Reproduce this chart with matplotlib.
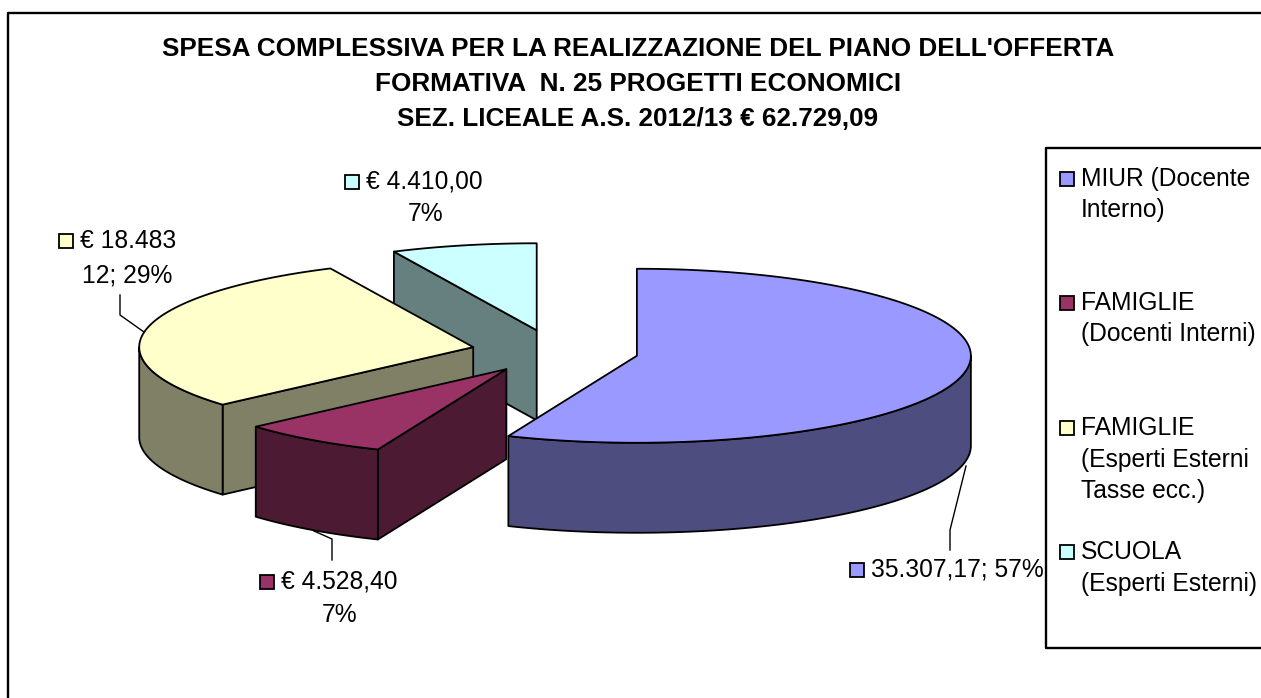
import numpy as np
import matplotlib
matplotlib.use("Agg")
import matplotlib.pyplot as plt
from matplotlib.patches import Polygon, Rectangle

plt.rcParams['font.family'] = ['Liberation Sans', 'DejaVu Sans']

# Data
values = [35307.17, 4528.40, 18483.12, 4410.00]
legend_names = ["MIUR (Docente\nInterno)", "FAMIGLIE\n(Docenti Interni)",
                "FAMIGLIE\n(Esperti Esterni\nTasse ecc.)", "SCUOLA\n(Esperti Esterni)"]
data_labels = ["35.307,17; 57%", "€ 4.528,40\n7%", "€ 18.483\n12; 29%", "€ 4.410,00\n7%"]
title_lines = ["SPESA COMPLESSIVA PER LA REALIZZAZIONE DEL PIANO DELL'OFFERTA",
               "FORMATIVA  N. 25 PROGETTI ECONOMICI",
               "SEZ. LICEALE A.S. 2012/13 € 62.729,09"]
top_colors = ['#9999FF', '#993366', '#FFFFCC', '#CCFFFF']
side_colors = ['#4D4D80', '#4D1A33', '#808066', '#668080']

# Pie geometry, in pixels
cx, cy = 555, 351.5
rx, ry = 334, 87
depth = 90
explode = 0.25
lw = 1.3

fig = plt.figure(figsize=(12.61, 6.98), dpi=100)
ax = fig.add_axes([0, 0, 1, 1])
ax.set_xlim(0, 1261)
ax.set_ylim(698, 0)
ax.axis('off')


def rim(x0, y0, a):
    # angle measured clockwise from the top, in radians
    return x0 + rx * np.sin(a), y0 - ry * np.cos(a)


def draw_poly(xs, ys, color, z):
    ax.add_patch(Polygon(np.column_stack([xs, ys]), closed=True, facecolor=color,
                         edgecolor='black', linewidth=lw, joinstyle='round', zorder=z))


def draw_wedge(a0, a1, top, side, z):
    mid = (a0 + a1) / 2
    x0 = cx + explode * rx * np.sin(mid)
    y0 = cy - explode * ry * np.cos(mid)

    # cut faces
    if np.sin(a0) < -1e-6:
        x, y = rim(x0, y0, a0)
        draw_poly([x, x0, x0, x], [y, y0, y0 + depth, y + depth], side, z)
    if np.sin(a1) > 1e-6:
        x, y = rim(x0, y0, a1)
        draw_poly([x, x0, x0, x], [y, y0, y0 + depth, y + depth], side, z)

    # outer wall, only the front half can be seen
    lo, hi = max(a0, np.pi / 2), min(a1, 3 * np.pi / 2)
    if hi > lo:
        t = np.linspace(lo, hi, 120)
        x, y = rim(x0, y0, t)
        draw_poly(np.r_[x, x[::-1]], np.r_[y, y[::-1] + depth], side, z)

    # top face
    t = np.linspace(a0, a1, 200)
    x, y = rim(x0, y0, t)
    draw_poly(np.r_[x0, x], np.r_[y0, y], top, z)


edges = np.r_[0, np.cumsum(values)] / np.sum(values) * 2 * np.pi
# back wedges first
for z, i in enumerate([3, 2, 1, 0]):
    draw_wedge(edges[i], edges[i + 1], top_colors[i], side_colors[i], z + 2)

# Frame (runs off the right and bottom of the picture)
ax.plot([7.5, 7.5, 1261], [698, 12.5, 12.5], color='black', lw=1.7, zorder=1)
ax.plot([1261, 1046, 1046, 1261], [148, 148, 648, 648], color='black', lw=1.7, zorder=1)

# Title
for line, y in zip(title_lines, [49, 84, 119]):
    ax.text(638, y, line, ha='center', va='center', fontsize=18.8, fontweight='bold', color='black')

# Leader lines
leaders = [([966, 950, 950], [466, 530, 550]),
           ([314, 332, 332], [531, 539, 560]),
           ([120, 120, 144], [295, 315, 332])]
for xs, ys in leaders:
    ax.plot(xs, ys, color='black', lw=1.0, zorder=10)

# Data labels: swatch + first line, wrapped line placed separately
label_pos = [(857, 570), (267, 582), (66, 241), (352, 182)]
second_line = [None, (340, 615), (127, 276), (426, 214)]
for i, (sx, sy) in enumerate(label_pos):
    ax.add_patch(Rectangle((sx - 7, sy - 7), 14, 14, facecolor=top_colors[i], edgecolor='black',
                           linewidth=lw, zorder=11))
    parts = data_labels[i].split('\n')
    ax.text(sx + 14, sy, parts[0], ha='left', va='center', fontsize=17.7, color='black', zorder=11)
    if second_line[i] is not None:
        ax.text(second_line[i][0], second_line[i][1], parts[1], ha='center', va='center',
                fontsize=17.7, color='black', zorder=11)

# Legend
legend_y = [179, 303, 428, 552]
leg_h = 31.5
for i, y in enumerate(legend_y):
    ax.add_patch(Rectangle((1060, y - 7), 14, 14, facecolor=top_colors[i], edgecolor='black',
                           linewidth=lw, zorder=11))
    for k, part in enumerate(legend_names[i].split('\n')):
        ax.text(1081, y + k * leg_h, part, ha='left', va='center', fontsize=17.7, color='black', zorder=11)

fig.savefig('out.png', dpi=100)
